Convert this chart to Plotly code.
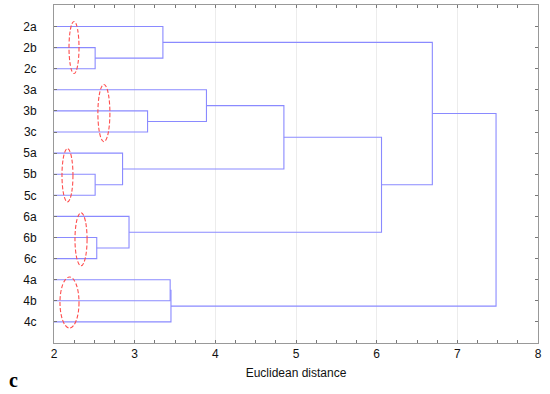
import plotly.graph_objects as go

# Leaf labels (top to bottom)
labels = ["2a", "2b", "2c", "3a", "3b", "3c", "5a", "5b", "5c",
          "6a", "6b", "6c", "4a", "4b", "4c"]

# Merges: (left child, right child, linkage distance)
merge_left = ["2b", "2a", "3b", "3a", "5b", "5a", "m4", "6b", "6a", "m7", "m2", "4a", "m12", "m11"]
merge_right = ["2c", "m1", "3c", "m3", "5c", "m5", "m6", "6c", "m8", "m9", "m10", "4b", "4c", "m13"]
merge_dist = [2.51, 3.35, 3.16, 3.89, 2.51, 2.85, 4.85, 2.53, 2.93, 6.06, 6.69, 3.44, 3.45, 7.48]

# x-axis tick values
x_ticks = [2, 3, 4, 5, 6, 7, 8]

# Red dashed ellipses around groups: (x0, x1, y0, y1) in data units
ell_x0 = [2.186, 2.544, 2.099, 2.26, 2.074]
ell_x1 = [2.31, 2.693, 2.235, 2.41, 2.31]
ell_y0 = [-0.24, 2.75, 5.79, 8.83, 11.87]
ell_y1 = [2.23, 5.46, 8.31, 11.34, 14.29]

# Build positions
pos = {lab: (2.0, i) for i, lab in enumerate(labels)}
xs, ys = [], []
for k, (a, b, d) in enumerate(zip(merge_left, merge_right, merge_dist)):
    xa, ya = pos[a]
    xb, yb = pos[b]
    xs += [xa, d, d, xb, None]
    ys += [ya, ya, yb, yb, None]
    pos["m%d" % (k + 1)] = (d, (ya + yb) / 2)

fig = go.Figure()
fig.add_trace(go.Scatter(x=xs, y=ys, mode="lines",
                         line=dict(color="#8a8aff", width=1.1),
                         hoverinfo="skip", showlegend=False))

for x0, x1, y0, y1 in zip(ell_x0, ell_x1, ell_y0, ell_y1):
    fig.add_shape(type="circle", xref="x", yref="y", x0=x0, x1=x1, y0=y0, y1=y1,
                  line=dict(color="#ff4d4d", width=1.1, dash="4px,2px"))

fig.add_annotation(text="<b>c</b>", xref="paper", yref="paper", x=-0.0837, y=-0.108,
                   xanchor="center", yanchor="middle", showarrow=False,
                   font=dict(family="Liberation Serif", size=20, color="black"))

fig.update_layout(
    width=550, height=394,
    margin=dict(l=54, r=12, t=5, b=51),
    paper_bgcolor="white", plot_bgcolor="white",
    font=dict(family="Liberation Sans", size=12, color="#111"),
    xaxis=dict(range=[2, 8], tickmode="array", tickvals=x_ticks,
               ticktext=[str(v) for v in x_ticks],
               showgrid=True, gridcolor="#ececec", automargin=False,
               gridwidth=1, zeroline=False, showline=True, linecolor="#999",
               linewidth=1, mirror="ticks", ticks="inside", ticklen=3, tickcolor="#777",
               minor=dict(dtick=0.25, tick0=2, ticks="inside", ticklen=3, tickcolor="#777",
                          showgrid=False),
               ticklabeloverflow="allow",
               title=dict(text="Euclidean distance", font=dict(size=12), standoff=8),
               tickfont=dict(size=12)),
    yaxis=dict(range=[15, -1.02], tickmode="array", tickvals=list(range(len(labels))),
               ticktext=labels, showgrid=False, zeroline=False, showline=True,
               automargin=False,
               linecolor="#999", linewidth=1, mirror="ticks", ticks="inside",
               ticklen=3, tickcolor="#777", ticklabelstandoff=14,
               tickfont=dict(size=12)),
)

fig.write_html("out.html", config={"displayModeBar": False},
               post_script="document.body.style.margin='0';document.body.style.overflow='hidden';")
